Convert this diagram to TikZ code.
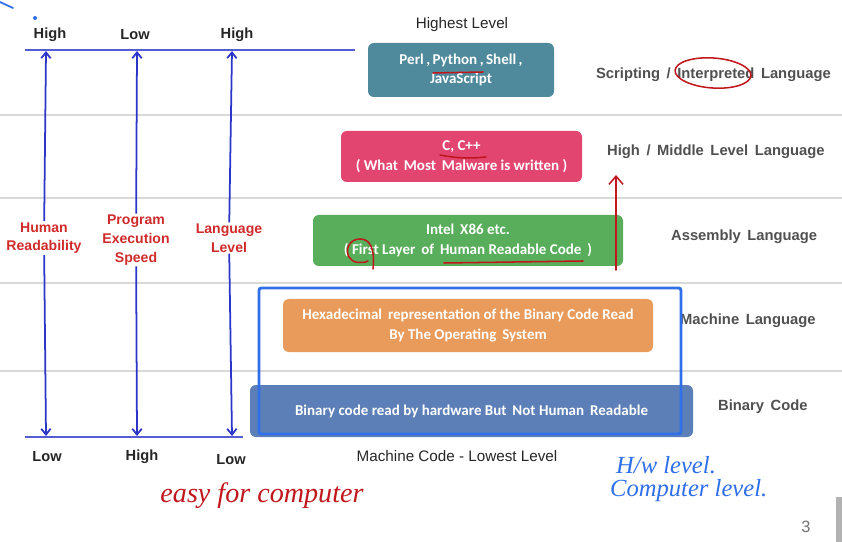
\documentclass[tikz,border=0pt]{standalone}
\usepackage{fontspec}
\setmainfont{Liberation Sans}
\newfontfamily\boxfont{Carlito}
\newfontfamily\handfont{Liberation Serif}
\usetikzlibrary{arrows.meta,positioning,shapes.geometric}
\definecolor{scriptc}{HTML}{4F8A9C}
\definecolor{highc}{HTML}{E2456F}
\definecolor{asmc}{HTML}{58AE5B}
\definecolor{machc}{HTML}{E99B5B}
\definecolor{binc}{HTML}{5C7FB8}
\definecolor{axisblue}{HTML}{2B35C8}
\definecolor{rulegray}{HTML}{D9D9D9}
\definecolor{sidegray}{HTML}{505050}
\definecolor{labred}{HTML}{D02A2A}
\definecolor{penred}{HTML}{C0161C}
\definecolor{penblue}{HTML}{2F6FE8}
\newcommand\pxl{0.03cm}
\tikzset{%
   lvl/.style={
      rounded corners=5pt,
      text=white,
      align=center,
      inner sep=0pt,
      font=\boxfont\bfseries\fontsize{12.8}{16.8}\selectfont
   },
   side/.style={
      anchor=west,
      text=sidegray,
      font=\bfseries\fontsize{12.6}{14}\selectfont
   },
   tick/.style={
      font=\bfseries\fontsize{12.5}{14}\selectfont,
      text=black!85
   },
   meas/.style={
      align=center,
      text=labred,
      inner sep=1pt,
      font=\bfseries\fontsize{12}{16}\selectfont
   },
   axis/.style={
      draw=axisblue,
      line width=1.5pt,
      -{Straight Barb[length=5pt,width=8pt]}
   },
   rule/.style={
      draw=rulegray,
      line width=1.2pt
   },
   base/.style={
      draw=axisblue!80,
      line width=1.6pt
   },
   pen/.style={
      draw=penred,
      line width=1.3pt,
      line cap=round
   },
   hand/.style={
      font=\handfont\itshape\fontsize{21}{24}\selectfont
   },
}
\begin{document}
\begin{tikzpicture}[x=\pxl, y=-\pxl]
   \useasboundingbox (0,0) rectangle (842,542);
   % level separators
   \foreach \yy in {115,198,283,371}
      \draw[rule] (0,\yy) -- (842,\yy);
   \draw[base] (25,50) -- (355,50);
   \draw[base] (25,437) -- (243,437);
   % axis ends
   \foreach \nm/\xx in {hr/46,ps/137,ll/232} {
      \coordinate (\nm t) at (\xx,51);
      \coordinate (\nm b) at (\xx,436);
   }
   \node[tick] (hrhi) at (50,35) {High};
   \node[tick] (pslo) at (135,35) {Low};
   \node[tick] (llhi) at (237,35) {High};
   \node[tick] (hrlo) at (47,457) {Low};
   \node[tick] (pshi) at (142,457) {High};
   \node[tick] (lllo) at (231,460) {Low};
   \node[meas] (hr) at (44,238) {Human\\Readability};
   \node[meas] (ps) at (136,240) {Program\\Execution\\Speed};
   \node[meas] (ll) at (229,238) {Language\\Level};
   \foreach \nm in {hr,ps,ll} {
      \draw[axis] (\nm) -- (\nm t);
      \draw[axis] (\nm) -- (\nm b);
   }
   % levels
   \node[font=\fontsize{13}{15}\selectfont, text=black!85] (top) at (462,25) {Highest Level};
   \node[lvl, fill=scriptc, minimum width=186*\pxl, minimum height=54*\pxl] (perl) at (461,70)
      {Perl\,,\,Python\,,\,Shell\,,\\JavaScript};
   \node[lvl, fill=highc, minimum width=241*\pxl, minimum height=51*\pxl] (cpp) at (461.5,156.5)
      {C, C++\\( What\, Most\, Malware is written )};
   \node[lvl, fill=asmc, minimum width=310*\pxl, minimum height=51*\pxl] (asm) at (468,240.5)
      {Intel\, X86 etc.\\( First Layer\, of\, Human Readable Code\, )};
   \node[lvl, fill=machc, minimum width=370*\pxl, minimum height=53*\pxl] (hex) at (468,325.5)
      {Hexadecimal\, representation of the Binary Code Read\\By The Operating\, System};
   \node[lvl, fill=binc, minimum width=443*\pxl, minimum height=52*\pxl] (bin) at (471.5,411)
      {Binary code read by hardware But\, Not Human\, Readable};
   \node[font=\fontsize{13}{15}\selectfont, text=black!85] (bottom) at (457,456) {Machine Code - Lowest Level};
   \node[side] (lscript) at (592,75) {Scripting\, /\, Interpreted\, Language};
   \node[side] (lhigh) at (603,152) {High\, /\, Middle\, Level\, Language};
   \node[side] (lasm) at (667,237) {Assembly\, Language};
   \node[side] (lmach) at (676,321) {Machine\, Language};
   \node[side] (lbin) at (714,407) {Binary\, Code};
   \node[text=black!55, font=\fontsize{14}{16}\selectfont] (page) at (806,527) {3};
   \fill[black!30] (836,497) rectangle (842,542);
   % pen marks
   \draw[pen] (433,73) -- (483,72);
   \draw[pen] (440,155) to[bend right=8] (486,157);
   \draw[pen] (444,263) -- (583,261);
   \draw[pen, rotate around={-4:(713,73)}] (713,73) ellipse [x radius=38, y radius=15];
   \draw[pen] (373,269) .. controls (375,248) and (370,239) .. (360,239)
      .. controls (349,239) and (345,250) .. (349,257)
      .. controls (352,263) and (362,264) .. (368,261);
   \coordinate (tail) at (616,270);
   \coordinate (head) at (616,175);
   \draw[pen, -{Straight Barb[length=7pt,width=12pt]}] (tail) -- (head);
   \node[hand, text=penred, font=\handfont\itshape\fontsize{24}{26}\selectfont] (easy) at (262,496) {easy for computer};
   \node[hand, anchor=west, text=penblue] (hw) at (612,465) {H/w level.};
   \node[hand, anchor=west, text=penblue] (comp) at (606,491) {Computer level.};
   \draw[draw=penblue, line width=2.5pt, rounded corners=2pt] (259,288) rectangle (681,434);
   \draw[draw=penblue, line width=1.5pt, line cap=round] (0,2) -- (13,8);
   \fill[penblue] (35,18) circle (2);
\end{tikzpicture}
\end{document}
